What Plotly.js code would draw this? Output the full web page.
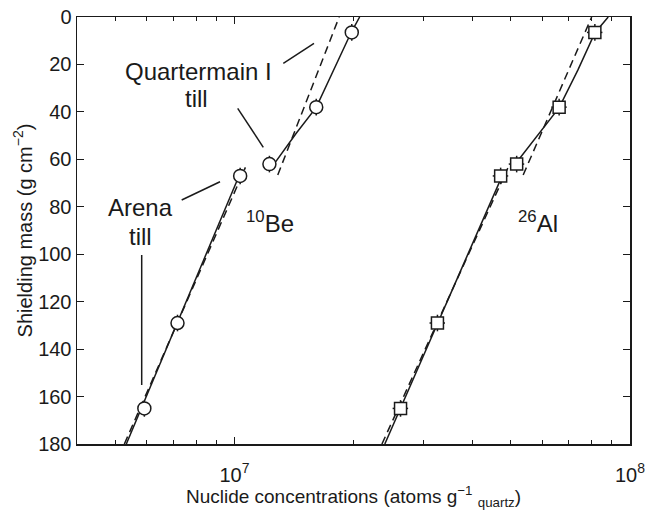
<!DOCTYPE html>
<html>
<head>
<meta charset="utf-8">
<script src="https://cdn.plot.ly/plotly-3.0.1.min.js"></script>
<style>html,body{margin:0;padding:0;background:#fff;}#chart{width:646px;height:510px;}</style>
</head>
<body>
<div id="chart"></div>
<script>
// ---- data ----
var depth = [6.5, 38, 62, 67, 129, 165];              // shielding mass, g cm^-2
var be10 = [1.98e7, 1.61e7, 1.226e7, 1.034e7, 7.18e6, 5.92e6];
var al26 = [8.15e7, 6.62e7, 5.17e7, 4.71e7, 3.26e7, 2.63e7];
var depthErr = [3.5, 3.5, 3.5, 3.5, 3.5, 3.5];
var beErrPct = 2;
var alErrPct = 4.5;

// model profiles (Arena till = lower, Quartermain I till = upper)
var beLowSolidD = [180, 64.5];          var beLowSolidC = [5.33e6, 1.042e7];
var beLowDashD  = [180, 63.4];          var beLowDashC  = [5.27e6, 1.066e7];
var beUpSolidD  = [61.7, 49.0, 38.1, 21.6, 6.45, 0];
var beUpSolidC  = [1.263e7, 1.433e7, 1.61e7, 1.792e7, 1.974e7, 2.073e7];
var beUpDashD   = [66.6, 0];            var beUpDashC   = [1.287e7, 1.84e7];

var alLowSolidD = [180, 65.3];          var alLowSolidC = [2.40e7, 4.80e7];
var alLowDashD  = [180, 63.7];          var alLowDashC  = [2.36e7, 4.91e7];
var alUpSolidD  = [63.1, 38.2, 22.3, 6.6, 0];
var alUpSolidC  = [5.066e7, 6.62e7, 7.386e7, 8.155e7, 8.81e7];
var alUpDashD   = [66.6, 0];            var alUpDashC   = [5.37e7, 8.0e7];

var xTickVals = [1e7, 1e8];
var xTickText = ['10<sup>7</sup>', '10<sup>8</sup>'];
var xMinorVals = [5e6, 6e6, 7e6, 8e6, 9e6, 2e7, 3e7, 4e7, 5e7, 6e7, 7e7, 8e7, 9e7];
var yTickVals = [0, 20, 40, 60, 80, 100, 120, 140, 160, 180];

// ---- styling ----
var INK = '#1a1a1a';
var FONT = 'Liberation Sans, Arial, Helvetica, sans-serif';
function lineTrace(c, d, dashed) {
  return {x: c, y: d, type: 'scatter', mode: 'lines', hoverinfo: 'skip',
    line: {color: INK, width: 1.5, dash: dashed ? '8px,5px' : 'solid'}, showlegend: false};
}
var traces = [
  lineTrace(beLowSolidC, beLowSolidD, false),
  lineTrace(beLowDashC, beLowDashD, true),
  lineTrace(beUpSolidC, beUpSolidD, false),
  lineTrace(beUpDashC, beUpDashD, true),
  lineTrace(alLowSolidC, alLowSolidD, false),
  lineTrace(alLowDashC, alLowDashD, true),
  lineTrace(alUpSolidC, alUpSolidD, false),
  lineTrace(alUpDashC, alUpDashD, true),
  {x: be10, y: depth, type: 'scatter', mode: 'markers', showlegend: false,
    marker: {symbol: 'circle', size: 13, color: '#fff', line: {color: INK, width: 1.5}},
    error_y: {type: 'data', array: depthErr, color: INK, thickness: 1.5, width: 0},
    error_x: {type: 'percent', value: beErrPct, color: INK, thickness: 1.5, width: 0}},
  {x: al26, y: depth, type: 'scatter', mode: 'markers', showlegend: false,
    marker: {symbol: 'square', size: 12, color: '#fff', line: {color: INK, width: 1.5}},
    error_y: {type: 'data', array: depthErr, color: INK, thickness: 1.5, width: 0},
    error_x: {type: 'percent', value: alErrPct, color: INK, thickness: 1.5, width: 0}}
];

var ML = 77, MR = 16, MT = 17, MB = 66, W = 646, H = 510;
var PW = W - ML - MR, PH = H - MT - MB;
function px(x) { return (x - ML) / PW; }
function py(y) { return (H - MB - y) / PH; }
function label(text, x, y) {
  return {text: text, xref: 'paper', yref: 'paper', x: px(x), y: py(y), showarrow: false,
    xanchor: 'center', yanchor: 'middle', font: {family: FONT, size: 24, color: INK}};
}
function leader(x0, y0, x1, y1) {
  return {type: 'line', xref: 'paper', yref: 'paper', x0: px(x0), y0: py(y0), x1: px(x1), y1: py(y1),
    line: {color: INK, width: 1.5}};
}

var layout = {
  width: W, height: H,
  margin: {l: ML, r: MR, t: MT, b: MB, pad: 0},
  paper_bgcolor: '#fff', plot_bgcolor: '#fff',
  font: {family: FONT, size: 20, color: INK},
  showlegend: false,
  xaxis: {
    type: 'log', range: [Math.log10(4e6), 8], autorange: false,
    tickmode: 'array', tickvals: xTickVals, ticktext: xTickText,
    ticks: 'inside', ticklen: 7, tickwidth: 1, tickcolor: INK,
    ticklabelstandoff: 12,
    minor: {tickmode: 'array', tickvals: xMinorVals, ticks: 'inside', ticklen: 4, tickwidth: 1, tickcolor: INK, showgrid: false},
    showline: true, linecolor: INK, linewidth: 1.5, mirror: 'ticks',
    showgrid: false, zeroline: false,
    tickfont: {family: FONT, size: 20, color: INK},
    title: {text: 'Nuclide concentrations (atoms g<sup>\u22121</sup> <sub>quartz</sub>)', font: {family: FONT, size: 19, color: INK}, standoff: 4}
  },
  yaxis: {
    range: [180, 0], autorange: false,
    tickmode: 'array', tickvals: yTickVals,
    ticks: 'inside', ticklen: 7, tickwidth: 1, tickcolor: INK,
    showline: true, linecolor: INK, linewidth: 1.5, mirror: 'ticks',
    showgrid: false, zeroline: false,
    tickfont: {family: FONT, size: 20, color: INK},
    title: {text: 'Shielding mass (g cm<sup>\u22122</sup>)', font: {family: FONT, size: 20, color: INK}, standoff: 0}
  },
  annotations: [
    label('Quartermain I', 198.3, 71),
    label('till', 196.7, 98.4),
    label('Arena', 140, 207.7),
    label('till', 140, 236.7),
    label('<sup>10</sup>Be', 270, 222),
    label('<sup>26</sup>Al', 538.3, 221.5)
  ],
  shapes: [
    leader(283.3, 63.3, 314, 43.3),
    leader(237.7, 108.3, 263.3, 147.3),
    leader(181.7, 200, 220, 181.7),
    leader(141.7, 255, 141.7, 385)
  ]
};

Plotly.newPlot('chart', traces, layout, {staticPlot: true, displayModeBar: false});
</script>
</body>
</html>
